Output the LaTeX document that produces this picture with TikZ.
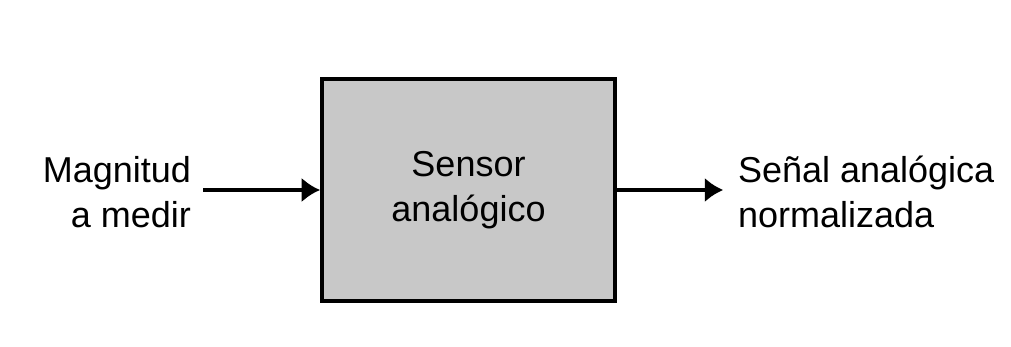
\documentclass[tikz,border=0pt]{standalone}
\usepackage{fontspec}
\setmainfont{Liberation Sans}
\usetikzlibrary{arrows.meta}
\definecolor{boxgray}{RGB}{200,200,200}
\begin{document}
\begin{tikzpicture}[x=0.025cm, y=-0.025cm, line cap=butt,
    lbl/.style={inner sep=0pt, outer sep=0pt, font=\fontsize{25.6}{32}\selectfont},
    block/.style={draw=black, fill=boxgray, line width=2.8pt,
      minimum width=7.32cm, minimum height=5.55cm, inner sep=0pt,
      font=\fontsize{25.6}{32}\selectfont, align=center},
    arr/.style={line width=3pt, -{Latex[length=0.46cm, width=0.62cm]}}]
  \useasboundingbox (0,0) rectangle (1011,347);
  % bloque central
  \node[block] (sensor) at (468.5,190) {Sensor\\analógico};
  % entrada
  \node[lbl, anchor=east, align=right] (mag) at (191,192) {Magnitud\\a medir};
  % salida
  \node[lbl, anchor=west, align=left] (sig) at (738,192) {Señal analógica\\normalizada};
  \draw[arr, shorten <=0.3cm] (mag.east |- sensor.west) -- (sensor.west);
  \draw[arr, shorten >=0.37cm] (sensor.east) -- (sensor.east -| sig.west);
\end{tikzpicture}
\end{document}
